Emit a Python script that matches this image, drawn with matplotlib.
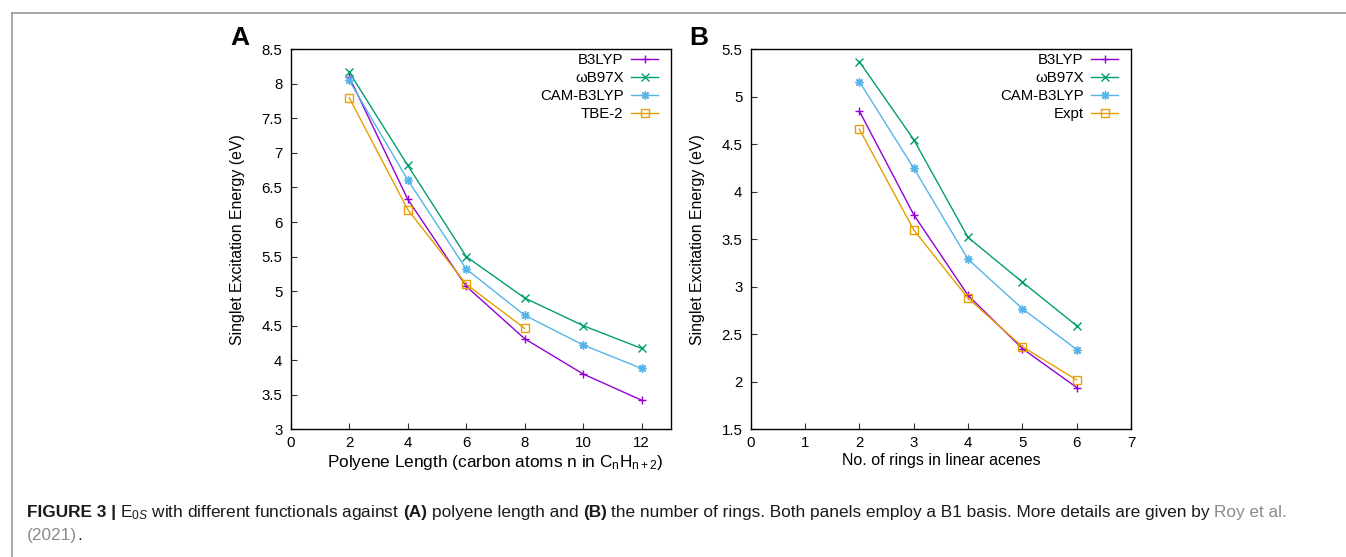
import matplotlib
matplotlib.use("Agg")
import matplotlib.pyplot as plt
from matplotlib.lines import Line2D
from matplotlib.ticker import FormatStrFormatter, MultipleLocator

plt.rcParams["font.family"] = ["Liberation Sans", "DejaVu Sans"]
plt.rcParams["mathtext.fontset"] = "custom"
plt.rcParams["mathtext.rm"] = "Liberation Sans"
plt.rcParams["mathtext.it"] = "Liberation Sans:italic"
plt.rcParams["mathtext.bf"] = "Liberation Sans:bold"

# --- data ---
polyene_n = [2, 4, 6, 8, 10, 12]
polyene_b3lyp = [8.10, 6.33, 5.07, 4.31, 3.80, 3.42]
polyene_wb97x = [8.17, 6.82, 5.50, 4.90, 4.50, 4.17]
polyene_cam = [8.05, 6.61, 5.32, 4.65, 4.22, 3.88]
polyene_tbe_n = [2, 4, 6, 8]
polyene_tbe = [7.80, 6.18, 5.10, 4.46]

acene_rings = [2, 3, 4, 5, 6]
acene_b3lyp = [4.85, 3.76, 2.91, 2.35, 1.94]
acene_wb97x = [5.37, 4.55, 3.52, 3.05, 2.59]
acene_cam = [5.16, 4.25, 3.29, 2.77, 2.34]
acene_expt = [4.66, 3.60, 2.88, 2.37, 2.02]

PURPLE = "#9400D3"
GREEN = "#009E73"
CYAN = "#56B4E9"
ORANGE = "#E69F00"

fig = plt.figure(figsize=(13.46, 5.57), dpi=100)
W, H = 1346, 557


def px_axes(left, top, right, bottom):
    return fig.add_axes([left / W, 1 - bottom / H, (right - left) / W, (bottom - top) / H])


def style(ax, xlim, ylim, xstep, ystep):
    ax.set_xlim(*xlim)
    ax.set_ylim(*ylim)
    ax.xaxis.set_major_locator(MultipleLocator(xstep))
    ax.yaxis.set_major_locator(MultipleLocator(ystep))
    ax.xaxis.set_major_formatter(FormatStrFormatter("%g"))
    ax.yaxis.set_major_formatter(FormatStrFormatter("%g"))
    ax.tick_params(direction="in", length=4.5, width=0.8, labelsize=10.8,
                   top=False, right=False, color="#333333")
    ax.tick_params(axis="x", pad=5)
    ax.tick_params(axis="y", pad=6)
    for s in ax.spines.values():
        s.set_linewidth(1.0)
    ax.set_ylabel("Singlet Excitation Energy (eV)", fontsize=11.4)
    ax.yaxis.set_label_coords(-0.12, 0.5)


mk = dict(markersize=6, linewidth=1.0, markeredgewidth=1.0)
star = (8, 2, 0)

axA = px_axes(290.7, 49.3, 671, 429.3)
axA.plot(polyene_n, polyene_b3lyp, color=PURPLE, marker="+", label="B3LYP", **mk)
axA.plot(polyene_n, polyene_wb97x, color=GREEN, marker="x", label="ωB97X", **mk)
axA.plot(polyene_n, polyene_cam, color=CYAN, marker=star, label="CAM-B3LYP", **mk)
axA.plot(polyene_tbe_n, polyene_tbe, color=ORANGE, marker="s", fillstyle="none",
         label="TBE-2", **mk)
style(axA, (0, 13), (3, 8.5), 2, 0.5)
axA.set_xlabel(r"Polyene Length (carbon atoms n in C$_\mathrm{n}$H$_\mathrm{n+2}$)", fontsize=12.4)
axA.xaxis.set_label_coords(0.537, -0.063)

axB = px_axes(750.7, 49.3, 1131, 429.3)
axB.plot(acene_rings, acene_b3lyp, color=PURPLE, marker="+", label="B3LYP", **mk)
axB.plot(acene_rings, acene_wb97x, color=GREEN, marker="x", label="ωB97X", **mk)
axB.plot(acene_rings, acene_cam, color=CYAN, marker=star, label="CAM-B3LYP", **mk)
axB.plot(acene_rings, acene_expt, color=ORANGE, marker="s", fillstyle="none",
         label="Expt", **mk)
style(axB, (0, 7), (1.5, 5.5), 1, 0.5)
axB.set_xlabel("No. of rings in linear acenes", fontsize=11.5)
axB.xaxis.set_label_coords(0.5, -0.063)

for ax in (axA, axB):
    ax.legend(loc="upper right", bbox_to_anchor=(0.966, 0.99), frameon=False,
              markerfirst=False, fontsize=10.8, handlelength=1.8, handletextpad=0.5,
              labelspacing=0.27, borderaxespad=0, borderpad=0, numpoints=1)

fig.text(240 / W, 1 - 38 / H, "A", fontsize=19, fontweight="bold", ha="center", va="center")
fig.text(699 / W, 1 - 38 / H, "B", fontsize=19, fontweight="bold", ha="center", va="center")

# page frame lines
fig.add_artist(Line2D([12 / W, 1], [1 - 13 / H, 1 - 13 / H], color="#9a9a9a", linewidth=1.2))
fig.add_artist(Line2D([12 / W, 12 / W], [0, 1 - 13 / H], color="#9a9a9a", linewidth=1.2))

# caption, built piece by piece
renderer = fig.canvas.get_renderer()
cap_size = 12.4
gap = 4.3


def caption_line(pieces, x0, y0):
    x = x0
    for text, weight, color, space in pieces:
        if space:
            x += gap
        t = fig.text(x / W, 1 - y0 / H, text, fontsize=cap_size, fontweight=weight,
                     color=color, ha="left", va="baseline")
        x += t.get_window_extent(renderer).width


caption_line([
    ("FIGURE 3 |", "bold", "#1a1a1a", False),
    (r"E$_{0\mathit{S}}$ with different functionals against", "normal", "#1a1a1a", True),
    ("(A)", "bold", "#1a1a1a", True),
    ("polyene length and", "normal", "#1a1a1a", True),
    ("(B)", "bold", "#1a1a1a", True),
    ("the number of rings. Both panels employ a B1 basis. More details are given by",
     "normal", "#1a1a1a", True),
    ("Roy et al.", "normal", "#8a8a8a", True),
], 27, 517)
caption_line([
    ("(2021)", "normal", "#8a8a8a", False),
    (".", "normal", "#1a1a1a", False),
], 27, 540)

fig.savefig("out.png", dpi=100)
